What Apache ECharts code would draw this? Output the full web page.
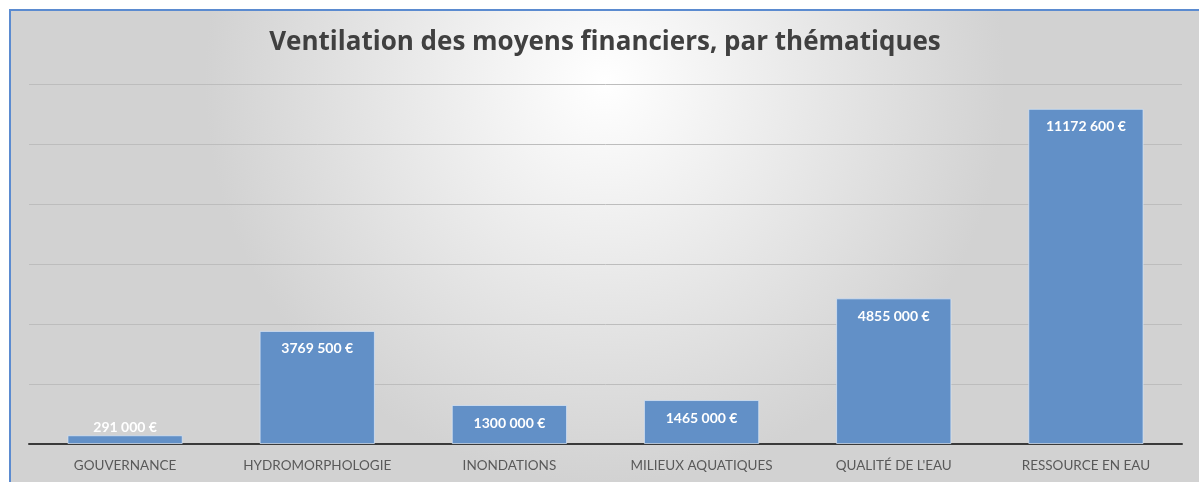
<!DOCTYPE html>
<html>
<head>
<meta charset="utf-8">
<script src="https://cdn.jsdelivr.net/npm/echarts@6/dist/echarts.min.js"></script>
<style>
  html, body { margin: 0; padding: 0; background: #ffffff; width: 1199px; height: 482px; overflow: hidden; }
  #frame {
    position: absolute; left: 9px; top: 9px; width: 1190px; height: 473px;
    border-left: 2px solid #5b8bd0; border-top: 2px solid #5b8bd0;
    box-sizing: border-box;
  }
  #chart { width: 100%; height: 100%; }
</style>
</head>
<body>
<div id="frame"><div id="chart"></div></div>
<script>
// Thematic budget breakdown (euros)
const categories = ['GOUVERNANCE', 'HYDROMORPHOLOGIE', 'INONDATIONS', 'MILIEUX AQUATIQUES', "QUALITÉ DE L'EAU", 'RESSOURCE EN EAU'];
const amounts = [291000, 3769500, 1300000, 1465000, 4855000, 11172600];
const axisMax = 12000000;
const axisStep = 2000000;

function euro(v) {
  const thousands = Math.floor(v / 1000);
  const rest = String(v % 1000).padStart(3, '0');
  return thousands + ' ' + rest + ' €';
}

const titleFont = '"Open Sans", Lato, sans-serif';
const font = 'Lato, "Open Sans", sans-serif';

const chart = echarts.init(document.getElementById('chart'));
chart.setOption({
  backgroundColor: {
    type: 'radial', x: 0.5, y: 0.15, r: 0.85,
    colorStops: [
      { offset: 0, color: '#ffffff' },
      { offset: 1, color: '#d2d2d2' }
    ]
  },
  animation: false,
  title: {
    text: 'Ventilation des moyens financiers, par thématiques',
    left: 'center', top: 14,
    textStyle: { fontFamily: titleFont, fontSize: 26, fontWeight: 'bold', color: '#404040' }
  },
  grid: { left: 18, right: 17, top: 73, bottom: 38 },
  xAxis: {
    type: 'category',
    data: categories,
    axisLine: { lineStyle: { color: '#3a3a3a', width: 2 } },
    axisTick: { show: false },
    axisLabel: { interval: 0, fontFamily: font, fontSize: 13.5, color: '#595959', margin: 15 }
  },
  yAxis: {
    type: 'value', min: 0, max: axisMax, interval: axisStep,
    axisLabel: { show: false },
    axisLine: { show: false },
    axisTick: { show: false },
    splitLine: { lineStyle: { color: '#bdbdbd', width: 1 } }
  },
  series: [{
    type: 'bar',
    data: amounts.map((v, i) => i === 0
      ? { value: v, label: { position: 'top', distance: 1 } }
      : v),
    barWidth: '60%',
    itemStyle: { color: '#6290c7', borderColor: 'rgba(220,232,248,0.7)', borderWidth: 1 },
    label: {
      show: true, position: 'insideTop', distance: 11,
      formatter: p => euro(p.value),
      fontFamily: font, fontSize: 14, fontWeight: 'bold', color: '#ffffff'
    }
  }]
});
</script>
</body>
</html>
